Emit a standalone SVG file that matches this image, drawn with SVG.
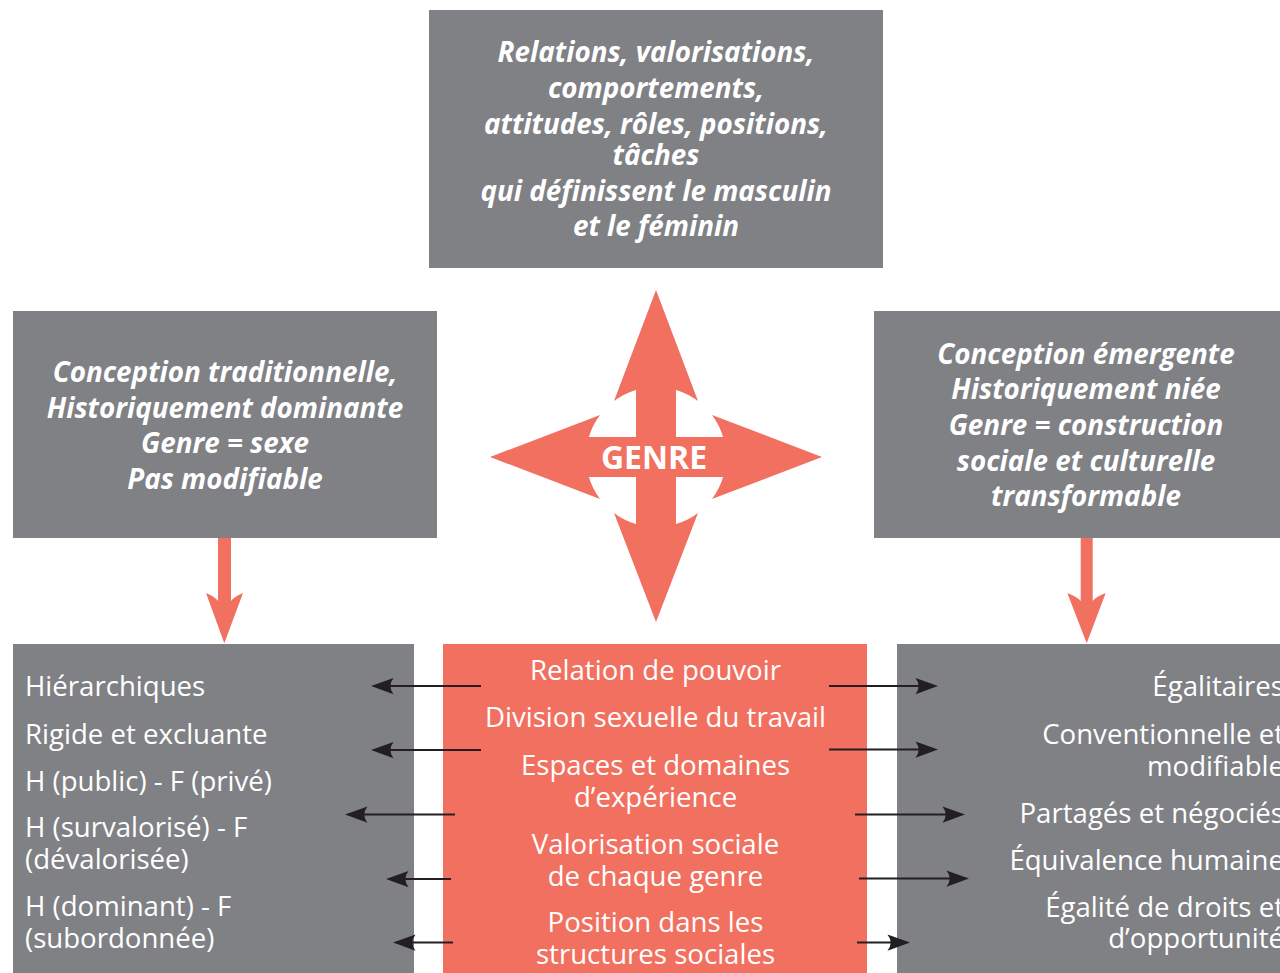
<svg xmlns="http://www.w3.org/2000/svg" width="1280" height="973" viewBox="0 0 1280 973">
<defs>
<style>
.box{fill:#808185}
.coral{fill:#F27060}
.bi{font-family:"Open Sans","Noto Sans","DejaVu Sans",sans-serif;font-weight:bold;font-style:italic;font-size:27.8px;fill:#fff;text-anchor:middle}
.reg{font-family:"Open Sans","Noto Sans","DejaVu Sans",sans-serif;font-size:27.6px;fill:#fff}
.mid{text-anchor:middle}
.end{text-anchor:end}
.conn{stroke:#231F20;stroke-width:2;fill:none;marker-end:url(#ah)}
</style>
<marker id="ah" markerUnits="userSpaceOnUse" markerWidth="30" markerHeight="20" viewBox="-8 -8 22 16" refX="0" refY="0" orient="auto" overflow="visible">
<path d="M12,0 L-6,-6.5 Q-1,0 -6,6.5 Z" fill="#231F20"/>
</marker>
</defs>
<rect width="1280" height="973" fill="#fff"/>

<g id="top">
<rect class="box" x="429" y="10" width="454" height="258"/>
<text class="bi" x="656" y="62">Relations, valorisations,</text>
<text class="bi" x="656" y="98">comportements,</text>
<text class="bi" x="656" y="134">attitudes, rôles, positions,</text>
<text class="bi" x="656" y="165">tâches</text>
<text class="bi" x="656" y="201">qui définissent le masculin</text>
<text class="bi" x="656" y="236">et le féminin</text>
</g>

<g id="traditional">
<rect class="box" x="13" y="311" width="424" height="227"/>
<text class="bi" x="225" y="382">Conception traditionnelle,</text>
<text class="bi" x="225" y="418">Historiquement dominante</text>
<text class="bi" x="225" y="453">Genre = sexe</text>
<text class="bi" x="225" y="489">Pas modifiable</text>
</g>

<g id="emergent">
<rect class="box" x="874" y="311" width="406" height="227"/>
<text class="bi" x="1086" y="364">Conception émergente</text>
<text class="bi" x="1086" y="399">Historiquement niée</text>
<text class="bi" x="1086" y="435">Genre = construction</text>
<text class="bi" x="1086" y="471">sociale et culturelle</text>
<text class="bi" x="1086" y="506">transformable</text>
</g>

<g id="genre">
<path class="coral" d="M656,290 L698,401 A70,70 0 0 0 676,389.9 L676,437 L723.1,437 A70,70 0 0 0 712,415 L822,457 L712,499 A70,70 0 0 0 723.1,477 L676,477 L676,524.1 A70,70 0 0 0 698,513 L656,622 L614,513 A70,70 0 0 0 636,524.1 L636,477 L588.9,477 A70,70 0 0 0 600,499 L490,457 L600,415 A70,70 0 0 0 588.9,437 L636,437 L636,389.9 A70,70 0 0 0 614,401 Z"/>
<text x="654" y="469" style="font-family:'Open Sans','Noto Sans',sans-serif;font-weight:bold;font-size:32px;fill:#fff;text-anchor:middle">GENRE</text>
</g>

<g id="left-list">
<rect class="box" x="13" y="644" width="401" height="329"/>
<text class="reg" x="25" y="696">Hiérarchiques</text>
<text class="reg" x="25" y="744">Rigide et excluante</text>
<text class="reg" x="25" y="791">H (public) - F (privé)</text>
<text class="reg" x="25" y="837">H (survalorisé) - F</text>
<text class="reg" x="25" y="869">(dévalorisée)</text>
<text class="reg" x="25" y="916">H (dominant) - F</text>
<text class="reg" x="25" y="948">(subordonnée)</text>
</g>

<g id="center-list">
<rect class="coral" x="443" y="644" width="424" height="329"/>
<text class="reg mid" x="655.5" y="680">Relation de pouvoir</text>
<text class="reg mid" x="655.5" y="727">Division sexuelle du travail</text>
<text class="reg mid" x="655.5" y="775">Espaces et domaines</text>
<text class="reg mid" x="655.5" y="807">d’expérience</text>
<text class="reg mid" x="655.5" y="854">Valorisation sociale</text>
<text class="reg mid" x="655.5" y="886">de chaque genre</text>
<text class="reg mid" x="655.5" y="932">Position dans les</text>
<text class="reg mid" x="655.5" y="964">structures sociales</text>
</g>

<g id="right-list">
<rect class="box" x="897" y="644" width="383" height="329"/>
<text class="reg end" x="1284" y="696">Égalitaires</text>
<text class="reg end" x="1284" y="744">Conventionnelle et</text>
<text class="reg end" x="1284" y="776">modifiable</text>
<text class="reg end" x="1284" y="823">Partagés et négociés</text>
<text class="reg end" x="1284" y="870">Équivalence humaine</text>
<text class="reg end" x="1284" y="917">Égalité de droits et</text>
<text class="reg end" x="1284" y="948">d’opportunité</text>
</g>

<g id="connectors">
<path class="coral" d="M218,538 L218,601 Q214,596 206,593 L224.3,643.3 L243,593 Q235,596 231,601 L231,538 Z"/>
<path class="coral" d="M1080.7,538 L1080.7,601 Q1076,596 1067.3,593 L1086.7,643.3 L1105.7,593 Q1097,596 1092.7,601 L1092.7,538 Z"/>
<line class="conn" x1="481" y1="686" x2="386" y2="686"/>
<line class="conn" x1="481" y1="750" x2="386" y2="750"/>
<line class="conn" x1="455" y1="814.5" x2="360" y2="814.5"/>
<line class="conn" x1="451" y1="879" x2="401" y2="879"/>
<line class="conn" x1="453" y1="942.5" x2="408" y2="942.5"/>
<line class="conn" x1="829" y1="686" x2="923" y2="686"/>
<line class="conn" x1="829" y1="749.5" x2="923" y2="749.5"/>
<line class="conn" x1="855" y1="814.5" x2="950" y2="814.5"/>
<line class="conn" x1="859" y1="878.5" x2="954" y2="878.5"/>
<line class="conn" x1="857" y1="942.5" x2="895" y2="942.5"/>
</g>
</svg>
